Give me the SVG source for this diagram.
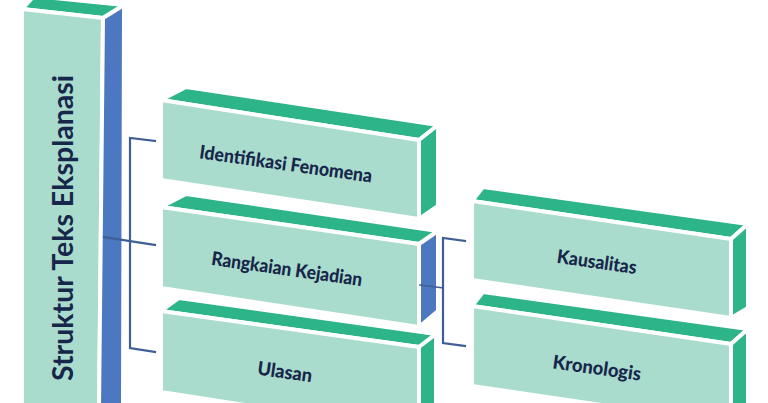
<svg xmlns="http://www.w3.org/2000/svg" width="768" height="403" viewBox="0 0 768 403">
<defs>
<style>
.face{stroke:#ffffff;stroke-width:4;stroke-linejoin:round}
.top{fill:#2db488}
.front{fill:#a9dccd}
.side{fill:#2db488}
.bside{fill:#4b78c0}
.lbl{font-family:Lato,"Open Sans","DejaVu Sans",sans-serif;font-weight:900;font-size:19px;fill:#17264a;text-anchor:middle;dominant-baseline:central}
.conn{fill:none;stroke:#3e5f96;stroke-width:2.2;stroke-linecap:square}
</style>
</defs>
<rect width="768" height="403" fill="#ffffff"/>

<g id="root">
<polygon class="face top" points="22,9 34,-4 124,5 103,18"/>
<polygon class="face front" points="22,9 103,18 99,410 22,410"/>
<polygon class="face bside" points="103,18 124,5 123,410 99,410"/>
<text transform="translate(61,228) rotate(-90)" class="lbl" style="font-size:29px;font-weight:bold" textLength="306" lengthAdjust="spacingAndGlyphs">Struktur Teks Eksplanasi</text>
</g>

<g id="identifikasi">
<polygon class="face top" points="161,100 186,87 438,125 419,140"/>
<polygon class="face front" points="161,100 419,140 419,219 161,180"/>
<polygon class="face side" points="419,140 438,125 438,206 419,219"/>
<text transform="translate(286,163) rotate(8)" class="lbl" textLength="174" lengthAdjust="spacingAndGlyphs">Identifikasi Fenomena</text>
</g>

<g id="rangkaian">
<polygon class="face top" points="161,207 186,194 438,231 419,244"/>
<polygon class="face front" points="161,207 419,244 419,327 161,288"/>
<polygon class="face bside" points="419,244 438,231 438,311 419,327"/>
<text transform="translate(287,268) rotate(8)" class="lbl" textLength="152" lengthAdjust="spacingAndGlyphs">Rangkaian Kejadian</text>
</g>

<g id="ulasan">
<polygon class="face top" points="161,311 179,298 436,334 419,347"/>
<polygon class="face front" points="161,311 419,347 419,432 161,392"/>
<polygon class="face side" points="419,347 436,334 436,420 419,432"/>
<text transform="translate(285,371) rotate(8)" class="lbl" textLength="55" lengthAdjust="spacingAndGlyphs">Ulasan</text>
</g>

<g id="kausalitas">
<polygon class="face top" points="472,201 483,187 748,224 731,239"/>
<polygon class="face front" points="472,201 731,239 731,318 472,280"/>
<polygon class="face side" points="731,239 748,224 748,308 731,318"/>
<text transform="translate(597,261) rotate(8)" class="lbl" textLength="80" lengthAdjust="spacingAndGlyphs">Kausalitas</text>
</g>

<g id="kronologis">
<polygon class="face top" points="472,306 483,292 748,329 731,344"/>
<polygon class="face front" points="472,306 731,344 731,424 472,386"/>
<polygon class="face side" points="731,344 748,329 748,420 731,424"/>
<text transform="translate(597,367) rotate(8)" class="lbl" textLength="89" lengthAdjust="spacingAndGlyphs">Kronologis</text>
</g>

<g id="connectors">
<polyline class="conn" points="155,141 130,138 130,348 155,352"/>
<line class="conn" x1="104" y1="237" x2="155" y2="245"/>
<polyline class="conn" points="465,241 443,238 443,343 465,346"/>
<line class="conn" x1="420" y1="285" x2="443" y2="288" style="stroke-width:1.5"/>
</g>
</svg>
